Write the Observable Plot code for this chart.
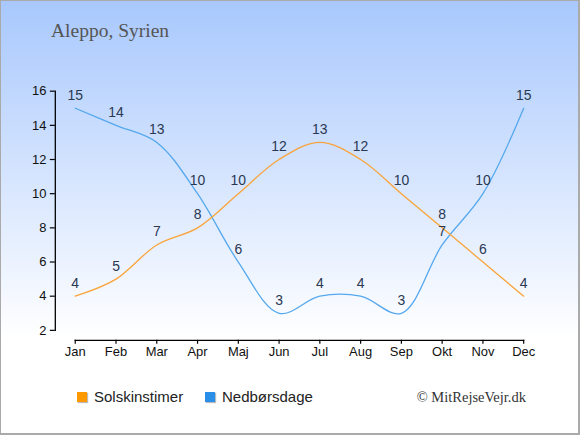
<!DOCTYPE html>
<html><head><meta charset="utf-8">
<script src="https://cdn.jsdelivr.net/npm/d3@7"></script>
<script src="https://cdn.jsdelivr.net/npm/@observablehq/plot@0.6"></script>
<style>
body{margin:0;}
#wrap{position:relative;width:580px;height:435px;box-sizing:border-box;border:1px solid #aaa;border-right-width:2px;border-bottom-width:2px;background:linear-gradient(to bottom,#a8c8fd 0%,#ffffff 78%);overflow:hidden;font-family:"Liberation Sans",Arial,sans-serif;}
#title{position:absolute;left:50px;top:19px;font-family:"Liberation Serif",serif;font-size:19.5px;color:#555;}
#chart{position:absolute;left:-1px;top:-1px;}
.leg{position:absolute;top:387px;font-size:15px;color:#222;display:flex;align-items:center;}
.sw{width:10px;height:10px;margin-right:7px;box-shadow:1px 1px 1px #bbb;}
#copy{position:absolute;right:52px;top:388px;font-family:"Liberation Serif",serif;font-size:14.5px;color:#333;}
</style></head>
<body>
<div id="wrap">
<div id="title">Aleppo, Syrien</div>
<div id="chart"></div>
<div class="leg" style="left:76px"><div class="sw" style="background:#ff9900"></div>Solskinstimer</div>
<div class="leg" style="left:204px"><div class="sw" style="background:#2a8fe8"></div>Nedbørsdage</div>
<div id="copy">© MitRejseVejr.dk</div>
</div>
<script>
const months = ["Jan","Feb","Mar","Apr","Maj","Jun","Jul","Aug","Sep","Okt","Nov","Dec"];
const sunshine = [4,5,7,8,10,12,13,12,10,8,6,4];
const rainDays = [15,14,13,10,6,3,4,4,3,7,10,15];
const yTicks = [2,4,6,8,10,12,14,16];

const sun = months.map((m,i)=>({i, v: sunshine[i]}));
const rain = months.map((m,i)=>({i, v: rainDays[i]}));

const chart = Plot.plot({
  width: 580,
  height: 370,
  marginLeft: 55,
  marginRight: 55,
  marginTop: 91,
  marginBottom: 29,
  insetBottom: 10,
  insetLeft: 20,
  style: {background: "transparent", fontFamily: "Liberation Sans, Arial, sans-serif"},
  x: {domain: [0, 11]},
  y: {domain: [2, 16]},
  marks: [
    Plot.frame({anchor: "left", insetBottom: 10, stroke: "#000", strokeWidth: 1.3}),
    Plot.frame({anchor: "bottom", insetLeft: 20, stroke: "#000", strokeWidth: 1.3}),
    Plot.axisY({ticks: yTicks, tickSize: 5, tickPadding: 4, fontSize: 13, fill: "#111", label: null, strokeWidth: 1.2}),
    Plot.axisX({ticks: d3.range(12), tickFormat: d => months[d], tickSize: 4, tickPadding: 3, fontSize: 13, fill: "#111", label: null, strokeWidth: 1.2}),
    Plot.line(rain, {x: "i", y: "v", stroke: "#55a8ee", strokeWidth: 1.3, curve: "catmull-rom"}),
    Plot.line(sun, {x: "i", y: "v", stroke: "#f9a43a", strokeWidth: 1.3, curve: "catmull-rom"}),
    Plot.text(rain, {x: "i", y: "v", text: "v", dy: -13, fontSize: 14, fill: "#2a3852"}),
    Plot.text(sun, {x: "i", y: "v", text: "v", dy: -13, fontSize: 14, fill: "#2a3852"})
  ]
});
document.getElementById("chart").appendChild(chart);
</script>
</body></html>
